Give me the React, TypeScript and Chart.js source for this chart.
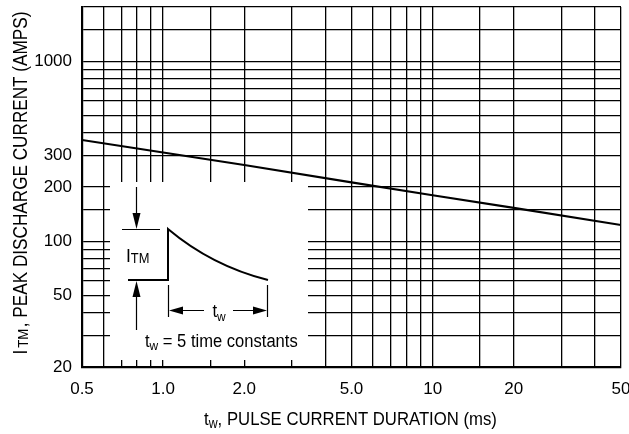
import React, { useEffect, useRef } from "react";
import { Chart, registerables } from "chart.js";

Chart.register(...registerables);

// ---- data ----
const pulseDurationMs = [0.5, 1, 2, 5, 10, 20, 50];
const peakCurrentAmps = [365, 311, 265, 212, 180, 153, 123];

const xGridValues = [0.5, 0.6, 0.7, 0.8, 0.9, 1, 1.5, 2, 3, 4, 5, 6, 7, 8, 9, 10, 15, 20, 30, 40, 50];
const xTickValues = [0.5, 1, 2, 5, 10, 20, 50];
const xTickLabels = ["0.5", "1.0", "2.0", "5.0", "10", "20", "50"];

const yGridValues = [20, 30, 40, 50, 60, 70, 80, 90, 100, 150, 200, 300, 400, 500, 600, 700, 800, 900, 1000, 1500, 2000];
const yTickValues = [20, 50, 100, 200, 300, 1000];
const yTickLabels = ["20", "50", "100", "200", "300", "1000"];

const FONT = "'Liberation Sans', Arial, Helvetica, sans-serif";

type Run = { t: string; size: number; dy?: number };

function drawRuns(
  ctx: CanvasRenderingContext2D,
  runs: Run[],
  x: number,
  y: number,
  align: "left" | "center",
  sx: number = 1
) {
  let total = 0;
  const widths = runs.map((r) => {
    ctx.font = `${r.size}px ${FONT}`;
    const w = ctx.measureText(r.t).width;
    total += w;
    return w;
  });
  ctx.save();
  ctx.translate(x, y);
  ctx.scale(sx, 1);
  let cx = align === "center" ? -total / 2 : 0;
  ctx.textAlign = "left";
  ctx.textBaseline = "alphabetic";
  runs.forEach((r, i) => {
    ctx.font = `${r.size}px ${FONT}`;
    ctx.fillText(r.t, cx, r.dy || 0);
    cx += widths[i];
  });
  ctx.restore();
}

const insetPlugin = {
  id: "inset",
  beforeDatasetsDraw(chart: any) {
    const ctx: CanvasRenderingContext2D = chart.ctx;
    const a = chart.chartArea;
    const X = (v: number) => a.left + (v - 82);
    const Y = (v: number) => a.top + (v - 7);
    ctx.save();
    // white inset box
    ctx.fillStyle = "#fff";
    ctx.fillRect(X(110), Y(182), 198, 178);

    ctx.strokeStyle = "#000";
    ctx.fillStyle = "#000";
    ctx.lineCap = "butt";

    // pulse shape
    ctx.lineWidth = 2;
    ctx.beginPath();
    ctx.moveTo(X(128), Y(280));
    ctx.lineTo(X(168), Y(280));
    ctx.lineTo(X(168), Y(229));
    ctx.quadraticCurveTo(X(212), Y(266), X(268), Y(280));
    ctx.stroke();

    // reference lines
    ctx.lineWidth = 1.2;
    ctx.beginPath();
    ctx.moveTo(X(122), Y(229.5));
    ctx.lineTo(X(160), Y(229.5));
    // down arrow shaft
    ctx.moveTo(X(136.5), Y(187));
    ctx.lineTo(X(136.5), Y(214));
    // up arrow shaft
    ctx.moveTo(X(136.5), Y(296));
    ctx.lineTo(X(136.5), Y(330));
    // dimension ticks
    ctx.moveTo(X(168.5), Y(285));
    ctx.lineTo(X(168.5), Y(317));
    ctx.moveTo(X(267.5), Y(285));
    ctx.lineTo(X(267.5), Y(317));
    // dimension line
    ctx.moveTo(X(180), Y(310.5));
    ctx.lineTo(X(204), Y(310.5));
    ctx.moveTo(X(233), Y(310.5));
    ctx.lineTo(X(255), Y(310.5));
    ctx.stroke();

    // arrow heads
    const tri = (p: number[][]) => {
      ctx.beginPath();
      ctx.moveTo(X(p[0][0]), Y(p[0][1]));
      ctx.lineTo(X(p[1][0]), Y(p[1][1]));
      ctx.lineTo(X(p[2][0]), Y(p[2][1]));
      ctx.closePath();
      ctx.fill();
    };
    tri([[136.5, 229], [132.5, 213], [140.5, 213]]);
    tri([[136.5, 281], [132.5, 297], [140.5, 297]]);
    tri([[169, 310.5], [183, 306.5], [183, 314.5]]);
    tri([[267, 310.5], [253, 306.5], [253, 314.5]]);

    // inset texts
    drawRuns(ctx, [{ t: "I", size: 19 }, { t: "TM", size: 14, dy: 1 }], X(126), Y(262), "left", 0.92);
    drawRuns(ctx, [{ t: "t", size: 18 }, { t: "w", size: 13, dy: 4 }], X(219), Y(317), "center", 0.92);
    drawRuns(
      ctx,
      [{ t: "t", size: 18 }, { t: "w", size: 13, dy: 3 }, { t: " = 5 time constants", size: 18 }],
      X(145),
      Y(347),
      "left",
      0.92
    );
    ctx.restore();
  },
};

const titlesPlugin = {
  id: "titles",
  afterDraw(chart: any) {
    const ctx: CanvasRenderingContext2D = chart.ctx;
    ctx.save();
    ctx.fillStyle = "#000";
    drawRuns(
      ctx,
      [{ t: "t", size: 19 }, { t: "w", size: 14, dy: 3 }, { t: ", PULSE CURRENT DURATION (ms)", size: 19 }],
      350.5,
      425,
      "center",
      0.88
    );
    ctx.translate(26.5, 183);
    ctx.rotate(-Math.PI / 2);
    drawRuns(
      ctx,
      [
        { t: "I", size: 19.5 },
        { t: " ", size: 8 },
        { t: "TM", size: 15, dy: 1.5 },
        { t: " ", size: 6 },
        { t: ", PEAK DISCHARGE CURRENT (AMPS)", size: 19.5 },
      ],
      0,
      0,
      "center",
      0.88
    );
    ctx.restore();
  },
};

export default function App() {
  const ref = useRef<HTMLCanvasElement | null>(null);

  useEffect(() => {
    if (!ref.current) return;
    const chart = new Chart(ref.current, {
      type: "line",
      data: {
        datasets: [
          {
            data: pulseDurationMs.map((x, i) => ({ x, y: peakCurrentAmps[i] })),
            borderColor: "#000",
            borderWidth: 2.2,
            pointRadius: 0,
            tension: 0,
            fill: false,
          },
        ],
      },
      options: {
        animation: false,
        responsive: false,
        layout: { padding: { top: 7, right: 8, left: 0, bottom: 0 } },
        plugins: { legend: { display: false }, tooltip: { enabled: false } },
        scales: {
          x: {
            type: "logarithmic",
            min: 0.5,
            max: 50,
            afterBuildTicks: (s: any) => {
              s.ticks = xGridValues.map((v) => ({ value: v }));
            },
            afterFit: (s: any) => {
              s.height = 67;
              s.paddingLeft = 0;
              s.paddingRight = 0;
            },
            ticks: {
              autoSkip: false,
              maxRotation: 0,
              minRotation: 0,
              padding: 12,
              color: "#000",
              font: { family: FONT, size: 17 },
              callback: (v: any) => {
                const i = xTickValues.indexOf(Number(v));
                return i >= 0 ? xTickLabels[i] : "";
              },
            },
            grid: { color: "#000", lineWidth: 1.3, drawTicks: false },
            border: { color: "#000", width: 2.2 },
          },
          y: {
            type: "logarithmic",
            min: 20,
            max: 2000,
            afterBuildTicks: (s: any) => {
              s.ticks = yGridValues.map((v) => ({ value: v }));
            },
            afterFit: (s: any) => {
              s.width = 82;
              s.paddingTop = 0;
              s.paddingBottom = 0;
            },
            ticks: {
              autoSkip: false,
              padding: 10,
              color: "#000",
              font: { family: FONT, size: 17 },
              callback: (v: any) => {
                const i = yTickValues.indexOf(Number(v));
                return i >= 0 ? yTickLabels[i] : "";
              },
            },
            grid: { color: "#000", lineWidth: 1.3, drawTicks: false },
            border: { color: "#000", width: 2.2 },
          },
        },
      } as any,
      plugins: [insetPlugin, titlesPlugin],
    });
    return () => chart.destroy();
  }, []);

  return (
    <div style={{ position: "fixed", left: 0, top: 0, width: 629, height: 434, background: "#fff" }}>
      <canvas ref={ref} width={629} height={434} style={{ display: "block" }} />
    </div>
  );
}
